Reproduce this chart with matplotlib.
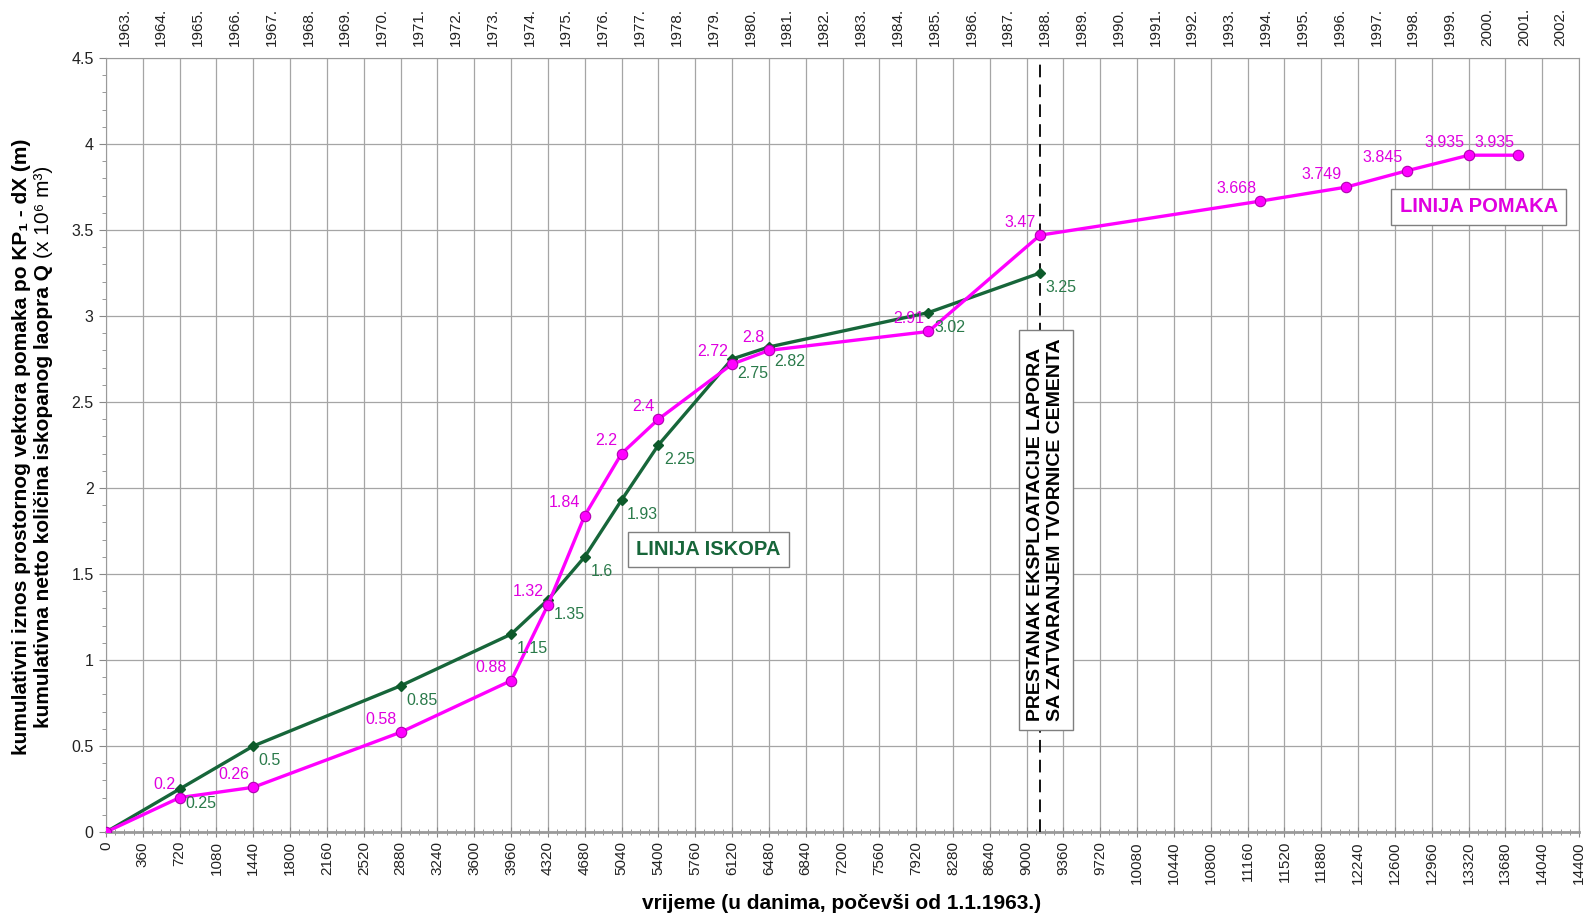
import matplotlib
matplotlib.use("Agg")
import matplotlib.pyplot as plt
from matplotlib.ticker import MultipleLocator

# data (days since 1.1.1963)
dani_pomak = [0, 720, 1440, 2880, 3960, 4320, 4680, 5040, 5400, 6120, 6480, 8040, 9131,
              11285, 12120, 12720, 13325, 13805]
pomak = [0, 0.2, 0.26, 0.58, 0.88, 1.32, 1.84, 2.2, 2.4, 2.72, 2.8, 2.91, 3.47,
         3.668, 3.749, 3.845, 3.935, 3.935]
pomak_labels = ["", "0.2", "0.26", "0.58", "0.88", "1.32", "1.84", "2.2", "2.4", "2.72", "2.8",
                "2.91", "3.47", "3.668", "3.749", "3.845", "3.935", "3.935"]

dani_iskop = [0, 720, 1440, 2880, 3960, 4320, 4680, 5040, 5400, 6120, 6480, 8040, 9131]
iskop = [0, 0.25, 0.5, 0.85, 1.15, 1.35, 1.6, 1.93, 2.25, 2.75, 2.82, 3.02, 3.25]
iskop_labels = ["", "0.25", "0.5", "0.85", "1.15", "1.35", "1.6", "1.93", "2.25", "2.75",
                "2.82", "3.02", "3.25"]

x_ticks = list(range(0, 14401, 360))
y_ticks = [0, 0.5, 1, 1.5, 2, 2.5, 3, 3.5, 4, 4.5]
y_tick_labels = ["0", "0.5", "1", "1.5", "2", "2.5", "3", "3.5", "4", "4.5"]
godine = [str(g) + "." for g in range(1963, 2003)]
godine_pos = [180 + 360 * i for i in range(len(godine))]
kraj_eksploatacije = 9131

MAG = "#FF00FF"
MAG_TXT = "#E000E0"
GRN = "#17663A"
GRN_TXT = "#2A7A4A"

plt.rcParams['font.family'] = ['Liberation Sans', 'DejaVu Sans']

fig = plt.figure(figsize=(15.94, 9.15), dpi=100)
ax = fig.add_axes([0.0665, 0.0907, 0.9241, 0.8459])

ax.set_xlim(0, 14400)
ax.set_ylim(0, 4.5)
ax.set_xticks(x_ticks)
ax.set_xticklabels([str(v) for v in x_ticks], rotation=90, fontsize=11, color="#222222")
ax.xaxis.set_minor_locator(MultipleLocator(90))
ax.set_yticks(y_ticks)
ax.set_yticklabels(y_tick_labels, fontsize=11.5, color="#222222")
ax.yaxis.set_minor_locator(MultipleLocator(0.1))
ax.tick_params(axis='x', which='major', direction='inout', length=7, color="#888888", pad=3)
ax.tick_params(axis='x', which='minor', direction='inout', length=5, color="#888888")
ax.tick_params(axis='y', which='major', direction='out', length=5, color="#888888", pad=4)
ax.tick_params(axis='y', which='minor', direction='out', length=3, color="#888888")
ax.grid(True, which='major', color="#A5A5A5", linewidth=0.9)
for s in ax.spines.values():
    s.set_color("#9A9A9A")
ax.spines['bottom'].set_linewidth(2)

ax.axvline(kraj_eksploatacije, color="black", linewidth=1.3, linestyle=(0, (7, 4)), zorder=3)

ax.plot(dani_iskop, iskop, color=GRN, linewidth=2.4, marker='D', markersize=5.5,
        markerfacecolor="#0D5A2A", markeredgecolor="#0D5A2A", zorder=4)
ax.plot(dani_pomak, pomak, color=MAG, linewidth=2.4, marker='o', markersize=7.5,
        markerfacecolor=MAG, markeredgecolor="#B000B0", markeredgewidth=0.8, zorder=5)

for x, y, t in zip(dani_iskop, iskop, iskop_labels):
    if t:
        ax.annotate(t, (x, y), xytext=(4, -5), textcoords='offset points',
                    ha='left', va='top', fontsize=11.5, color=GRN_TXT, zorder=6)
for x, y, t in zip(dani_pomak, pomak, pomak_labels):
    if t:
        ax.annotate(t, (x, y), xytext=(-3, 4), textcoords='offset points',
                    ha='right', va='bottom', fontsize=11.5, color=MAG_TXT, zorder=6)

box = dict(boxstyle='square,pad=0.4', facecolor='white', edgecolor='#7F7F7F', linewidth=1)
ax.text(5890, 1.64, "LINIJA ISKOPA", fontsize=14.5, fontweight='bold', color=GRN,
        ha='center', va='center', bbox=box, zorder=7)
ax.text(13418, 3.634, "LINIJA POMAKA", fontsize=14.5, fontweight='bold', color=MAG_TXT,
        ha='center', va='center', bbox=box, zorder=7)
ax.text(9185, 1.756, "PRESTANAK EKSPLOATACIJE LAPORA\nSA ZATVARANJEM TVORNICE CEMENTA",
        rotation=90, fontsize=14, fontweight='bold', color='black', linespacing=1.2,
        ha='center', va='center', multialignment='left',
        bbox=dict(boxstyle='square,pad=0.45', facecolor='white', edgecolor='#7F7F7F',
                  linewidth=1), zorder=7)

# top axis with years
ax2 = ax.twiny()
ax2.set_xlim(ax.get_xlim())
ax2.set_xticks(godine_pos)
ax2.set_xticklabels(godine, rotation=90, fontsize=11, color="#222222")
ax2.tick_params(axis='x', length=0, pad=9)
for s in ax2.spines.values():
    s.set_visible(False)

fig.text(0.528, 0.013, "vrijeme (u danima, počevši od 1.1.1963.)",
         fontsize=15, fontweight='bold', ha='center', va='center')

# y label, two lines; second line ends with a regular (not bold) part
fig.canvas.draw()
r = fig.canvas.get_renderer()
yc = 0.5115
t0 = fig.text(0.0172, 0, "kumulativni iznos prostornog vektora pomaka po KP₁ - dX (m)",
              fontsize=15, fontweight='bold', rotation=90, rotation_mode='anchor',
              ha='left', va='baseline')
t1 = fig.text(0.0305, 0, "kumulativna netto količina iskopanog laopra Q ",
              fontsize=15, fontweight='bold', rotation=90, rotation_mode='anchor',
              ha='left', va='baseline')
t2 = fig.text(0.0305, 0, "(x 10⁶ m³)", fontsize=15, rotation=90,
              rotation_mode='anchor', ha='left', va='baseline')
h0 = t0.get_window_extent(r).height / fig.bbox.height
h1 = t1.get_window_extent(r).height / fig.bbox.height
h2 = t2.get_window_extent(r).height / fig.bbox.height
t0.set_y(yc - h0 / 2)
y0 = yc - (h1 + h2) / 2
t1.set_y(y0)
t2.set_y(y0 + h1)

fig.savefig("out.png", dpi=100)
